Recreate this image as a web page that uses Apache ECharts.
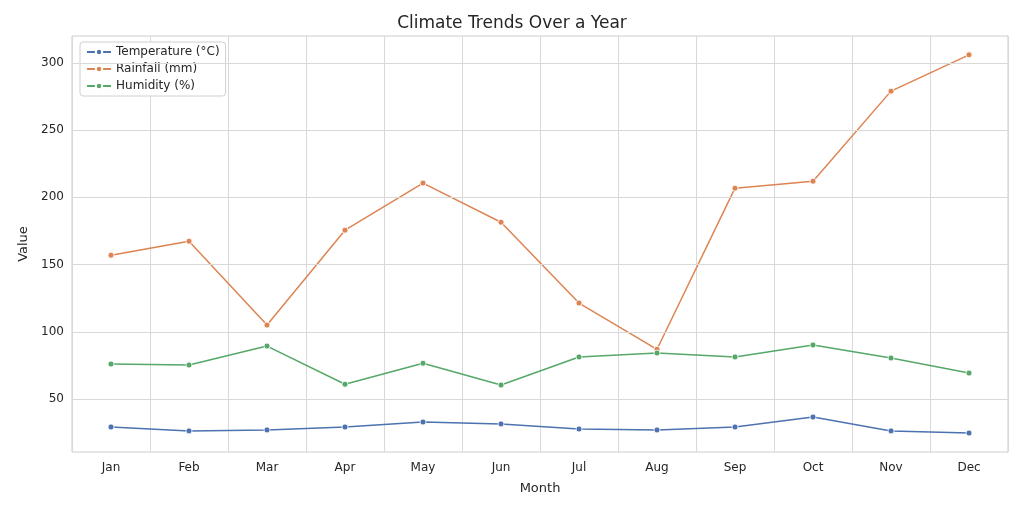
<!DOCTYPE html>
<html><head><meta charset="utf-8">
<script src="https://cdn.jsdelivr.net/npm/echarts@6/dist/echarts.min.js"></script>
<style>html,body{margin:0;background:#fff}#c{width:1024px;height:512px}</style>
</head><body><div id="c"></div>
<script>
const months=['Jan','Feb','Mar','Apr','May','Jun','Jul','Aug','Sep','Oct','Nov','Dec'];
const temperature=[29.2,26.3,27.0,29.2,32.9,31.5,27.7,27.0,29.2,36.6,26.3,24.7];
const rainfall=[157,167.4,105,175.6,210.6,181.5,121.4,87,206.8,212,279,306];
const humidity=[76,75.3,89.4,61,76.6,60.4,81.3,84.2,81.3,90.2,80.5,69.3];
const yTicks=[50,100,150,200,250,300];
const names=['Temperature (°C)','Rainfall (mm)','Humidity (%)'];
const colors=['#4c72b0','#dd8452','#55a868'];
const font='DejaVu Sans';
const mk=(n,d,c)=>({name:n,type:'line',data:d,symbol:'circle',symbolSize:6,
  lineStyle:{width:1.5,color:c},itemStyle:{color:c,borderColor:'#fff',borderWidth:0.8},emphasis:{disabled:true}});
const chart=echarts.init(document.getElementById('c'));
chart.setOption({
  animation:false,
  textStyle:{fontFamily:font},
  title:{text:'Climate Trends Over a Year',left:'center',top:10,textStyle:{fontFamily:font,fontSize:17,fontWeight:'normal',color:'#262626'}},
  legend:{data:names,orient:'vertical',left:80,top:42,itemWidth:24,itemHeight:8,itemGap:5,
    backgroundColor:'#fff',borderColor:'#d0d0d0',borderWidth:1,borderRadius:3,padding:[4,6],
    textStyle:{fontSize:12,color:'#262626',fontFamily:font}},
  grid:{left:72,right:16,top:36,bottom:60,show:true,borderColor:'#cccccc',borderWidth:1},
  xAxis:{type:'category',data:months,boundaryGap:true,name:'Month',nameLocation:'middle',nameGap:30,
    nameTextStyle:{fontSize:13,color:'#262626'},
    axisLine:{show:false},axisTick:{show:false},
    axisLabel:{color:'#262626',fontSize:12,margin:10,interval:0},
    splitLine:{show:true,interval:0,lineStyle:{color:'#d9d9d9'}}},
  yAxis:{type:'value',min:10.6,max:320,interval:50,name:'Value',nameLocation:'middle',nameGap:40,
    nameTextStyle:{fontSize:13,color:'#262626'},
    axisLine:{show:false},axisTick:{show:false},
    axisLabel:{color:'#262626',fontSize:12,customValues:yTicks,formatter:v=>Math.round(v)},
    axisTick:{show:false,customValues:yTicks},
    splitLine:{show:false}},
  series:[mk(names[0],temperature,colors[0]),mk(names[1],rainfall,colors[1]),mk(names[2],humidity,colors[2]),
    {type:'line',data:[],silent:true,markLine:{symbol:'none',silent:true,label:{show:false},
      lineStyle:{color:'#d9d9d9',type:'solid',width:1},data:yTicks.map(v=>({yAxis:v}))}}]
});
</script></body></html>
